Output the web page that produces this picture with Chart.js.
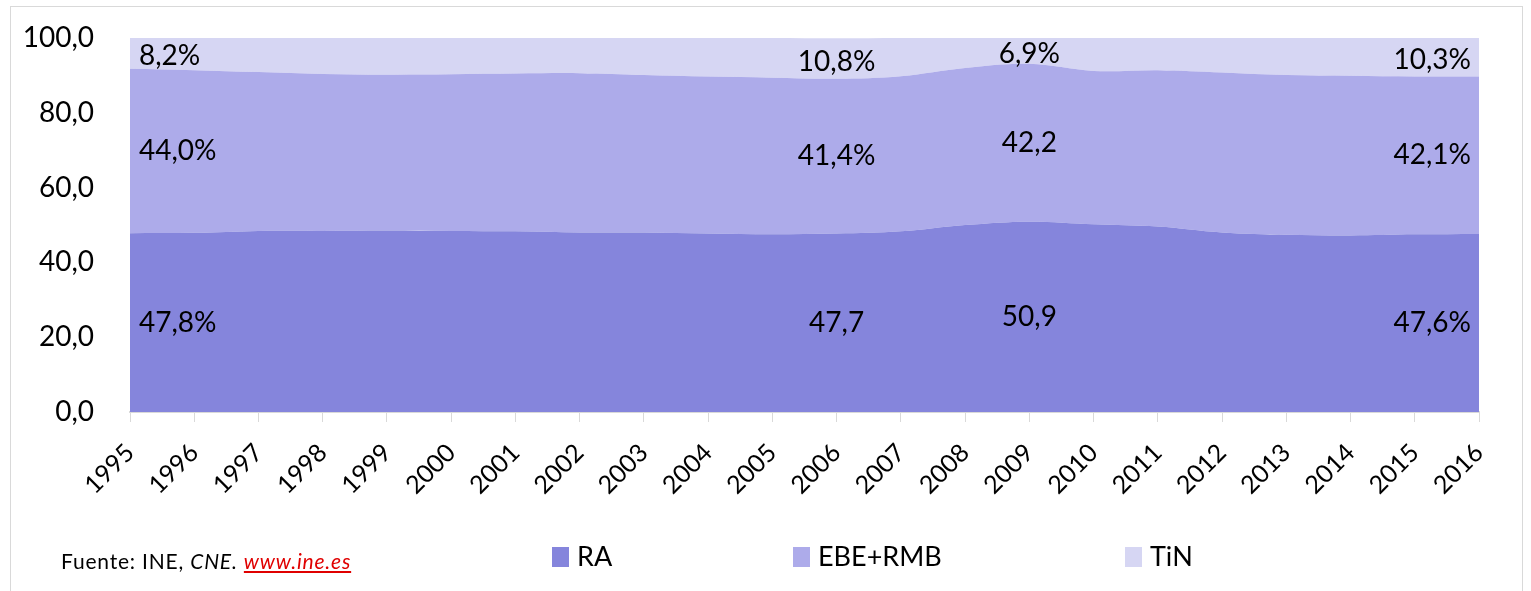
<!DOCTYPE html>
<html>
<head>
<meta charset="utf-8">
<script src="https://cdn.jsdelivr.net/npm/chart.js@4"></script>
<style>
  body { margin: 0; background: #fff; font-family: Lato, "Open Sans", sans-serif; }
  #wrap { position: relative; width: 1531px; height: 591px; }
  #frame { position: absolute; left: 10px; top: 6px; width: 1511px; height: 600px; border: 1px solid #d9d9d9; }
  canvas { position: absolute; left: 0; top: 0; }
  .src { position: absolute; left: 61px; top: 548px; font-size: 21px; letter-spacing: 0.8px; color: #000; }
  .src a { color: #e00000; font-style: italic; }
  .leg { position: absolute; top: 539px; font-size: 27px; color: #000; }
  .leg span { display: inline-block; width: 17px; height: 20px; margin-right: 8px; vertical-align: -1px; }
</style>
</head>
<body>
<div id="wrap">
  <div id="frame"></div>
  <canvas id="chart" width="1531" height="591"></canvas>
  <div class="src">Fuente: INE, <i>CNE.</i> <a href="#">www.ine.es</a></div>
  <div class="leg" style="left:552px"><span style="background:#8585dc"></span>RA</div>
  <div class="leg" style="left:793px"><span style="background:#adabea"></span>EBE+RMB</div>
  <div class="leg" style="left:1125px"><span style="background:#d6d6f3"></span>TiN</div>
</div>
<script>
const years = ['1995','1996','1997','1998','1999','2000','2001','2002','2003','2004','2005',
               '2006','2007','2008','2009','2010','2011','2012','2013','2014','2015','2016'];
const ra  = [47.8, 47.9, 48.4, 48.4, 48.5, 48.4, 48.3, 48.0, 48.0, 47.7, 47.5,
             47.7, 48.3, 50.0, 50.9, 50.2, 49.6, 48.0, 47.4, 47.2, 47.5, 47.6];
const ebe = [44.0, 43.5, 42.5, 42.0, 41.7, 41.9, 42.2, 42.6, 42.1, 42.0, 41.9,
             41.4, 41.5, 42.0, 42.2, 41.0, 41.8, 42.8, 42.7, 42.7, 42.2, 42.1];
const tin = [8.2, 8.6, 9.1, 9.6, 9.8, 9.7, 9.5, 9.4, 9.9, 10.3, 10.6,
             10.8, 10.2, 8.0, 6.9, 8.8, 8.6, 9.2, 9.9, 10.1, 10.3, 10.3];

// data labels shown on the chart (index -> text)
const raLabels  = { 0: '47,8%', 11: '47,7', 14: '50,9', 21: '47,6%' };
const ebeLabels = { 0: '44,0%', 11: '41,4%', 14: '42,2', 21: '42,1%' };
const tinLabels = { 0: '8,2%', 11: '10,8%', 14: '6,9%', 21: '10,3%' };
const allLabels = [raLabels, ebeLabels, tinLabels];

const areaLabels = {
    id: 'areaLabels',
    afterDatasetsDraw(chart) {
        const ctx = chart.ctx;
        const yScale = chart.scales.y;
        ctx.save();
        ctx.font = '28px Lato, "Open Sans", sans-serif';
        ctx.fillStyle = '#000';
        ctx.textBaseline = 'middle';
        allLabels.forEach((lbls, di) => {
            const meta = chart.getDatasetMeta(di);
            Object.keys(lbls).forEach(k => {
                const j = parseInt(k, 10);
                const top = meta.data[j].y;
                const bottom = di === 0 ? yScale.getPixelForValue(0) : chart.getDatasetMeta(di - 1).data[j].y;
                let x = meta.data[j].x;
                let y = (top + bottom) / 2;
                if (di === 2) y += 3;
                if (j === 0) { ctx.textAlign = 'left'; x += 9; }
                else if (j === years.length - 1) { ctx.textAlign = 'right'; x -= 8; }
                else { ctx.textAlign = 'center'; }
                ctx.fillText(lbls[k], x, y);
            });
        });
        ctx.restore();
    }
};

function area(label, data, color, fill) {
    return {
        label: label,
        data: data,
        backgroundColor: color,
        borderColor: color,
        borderWidth: 0,
        pointRadius: 0,
        fill: fill,
        tension: 0.35
    };
}

new Chart(document.getElementById('chart').getContext('2d'), {
    type: 'line',
    data: {
        labels: years,
        datasets: [
            area('RA', ra, '#8585dc', 'origin'),
            area('EBE+RMB', ebe, '#adabea', '-1'),
            area('TiN', tin, '#d6d6f3', '-1')
        ]
    },
    options: {
        responsive: false,
        animation: false,
        layout: { padding: { top: 38, right: 52, left: 0, bottom: 79 } },
        plugins: { legend: { display: false }, tooltip: { enabled: false } },
        scales: {
            x: {
                offset: false,
                grid: { drawOnChartArea: false, drawTicks: true, tickLength: 10, color: '#d9d9d9' },
                border: { color: '#d9d9d9', width: 2 },
                ticks: {
                    minRotation: 45, maxRotation: 45, autoSkip: false,
                    color: '#000', padding: 16,
                    font: { family: 'Lato, "Open Sans", sans-serif', size: 25 }
                },
                afterFit(axis) { axis.height = 100; axis.paddingLeft = 0; axis.paddingRight = 0; }
            },
            y: {
                stacked: true,
                min: 0, max: 100,
                grid: { display: false },
                border: { display: false },
                ticks: {
                    stepSize: 20, color: '#000', padding: 28,
                    font: { family: 'Lato, "Open Sans", sans-serif', size: 28 },
                    callback: v => v.toFixed(1).replace('.', ',')
                },
                afterFit(axis) { axis.width = 130; axis.paddingTop = 0; axis.paddingBottom = 0; }
            }
        }
    },
    plugins: [areaLabels]
});
</script>
</body>
</html>
